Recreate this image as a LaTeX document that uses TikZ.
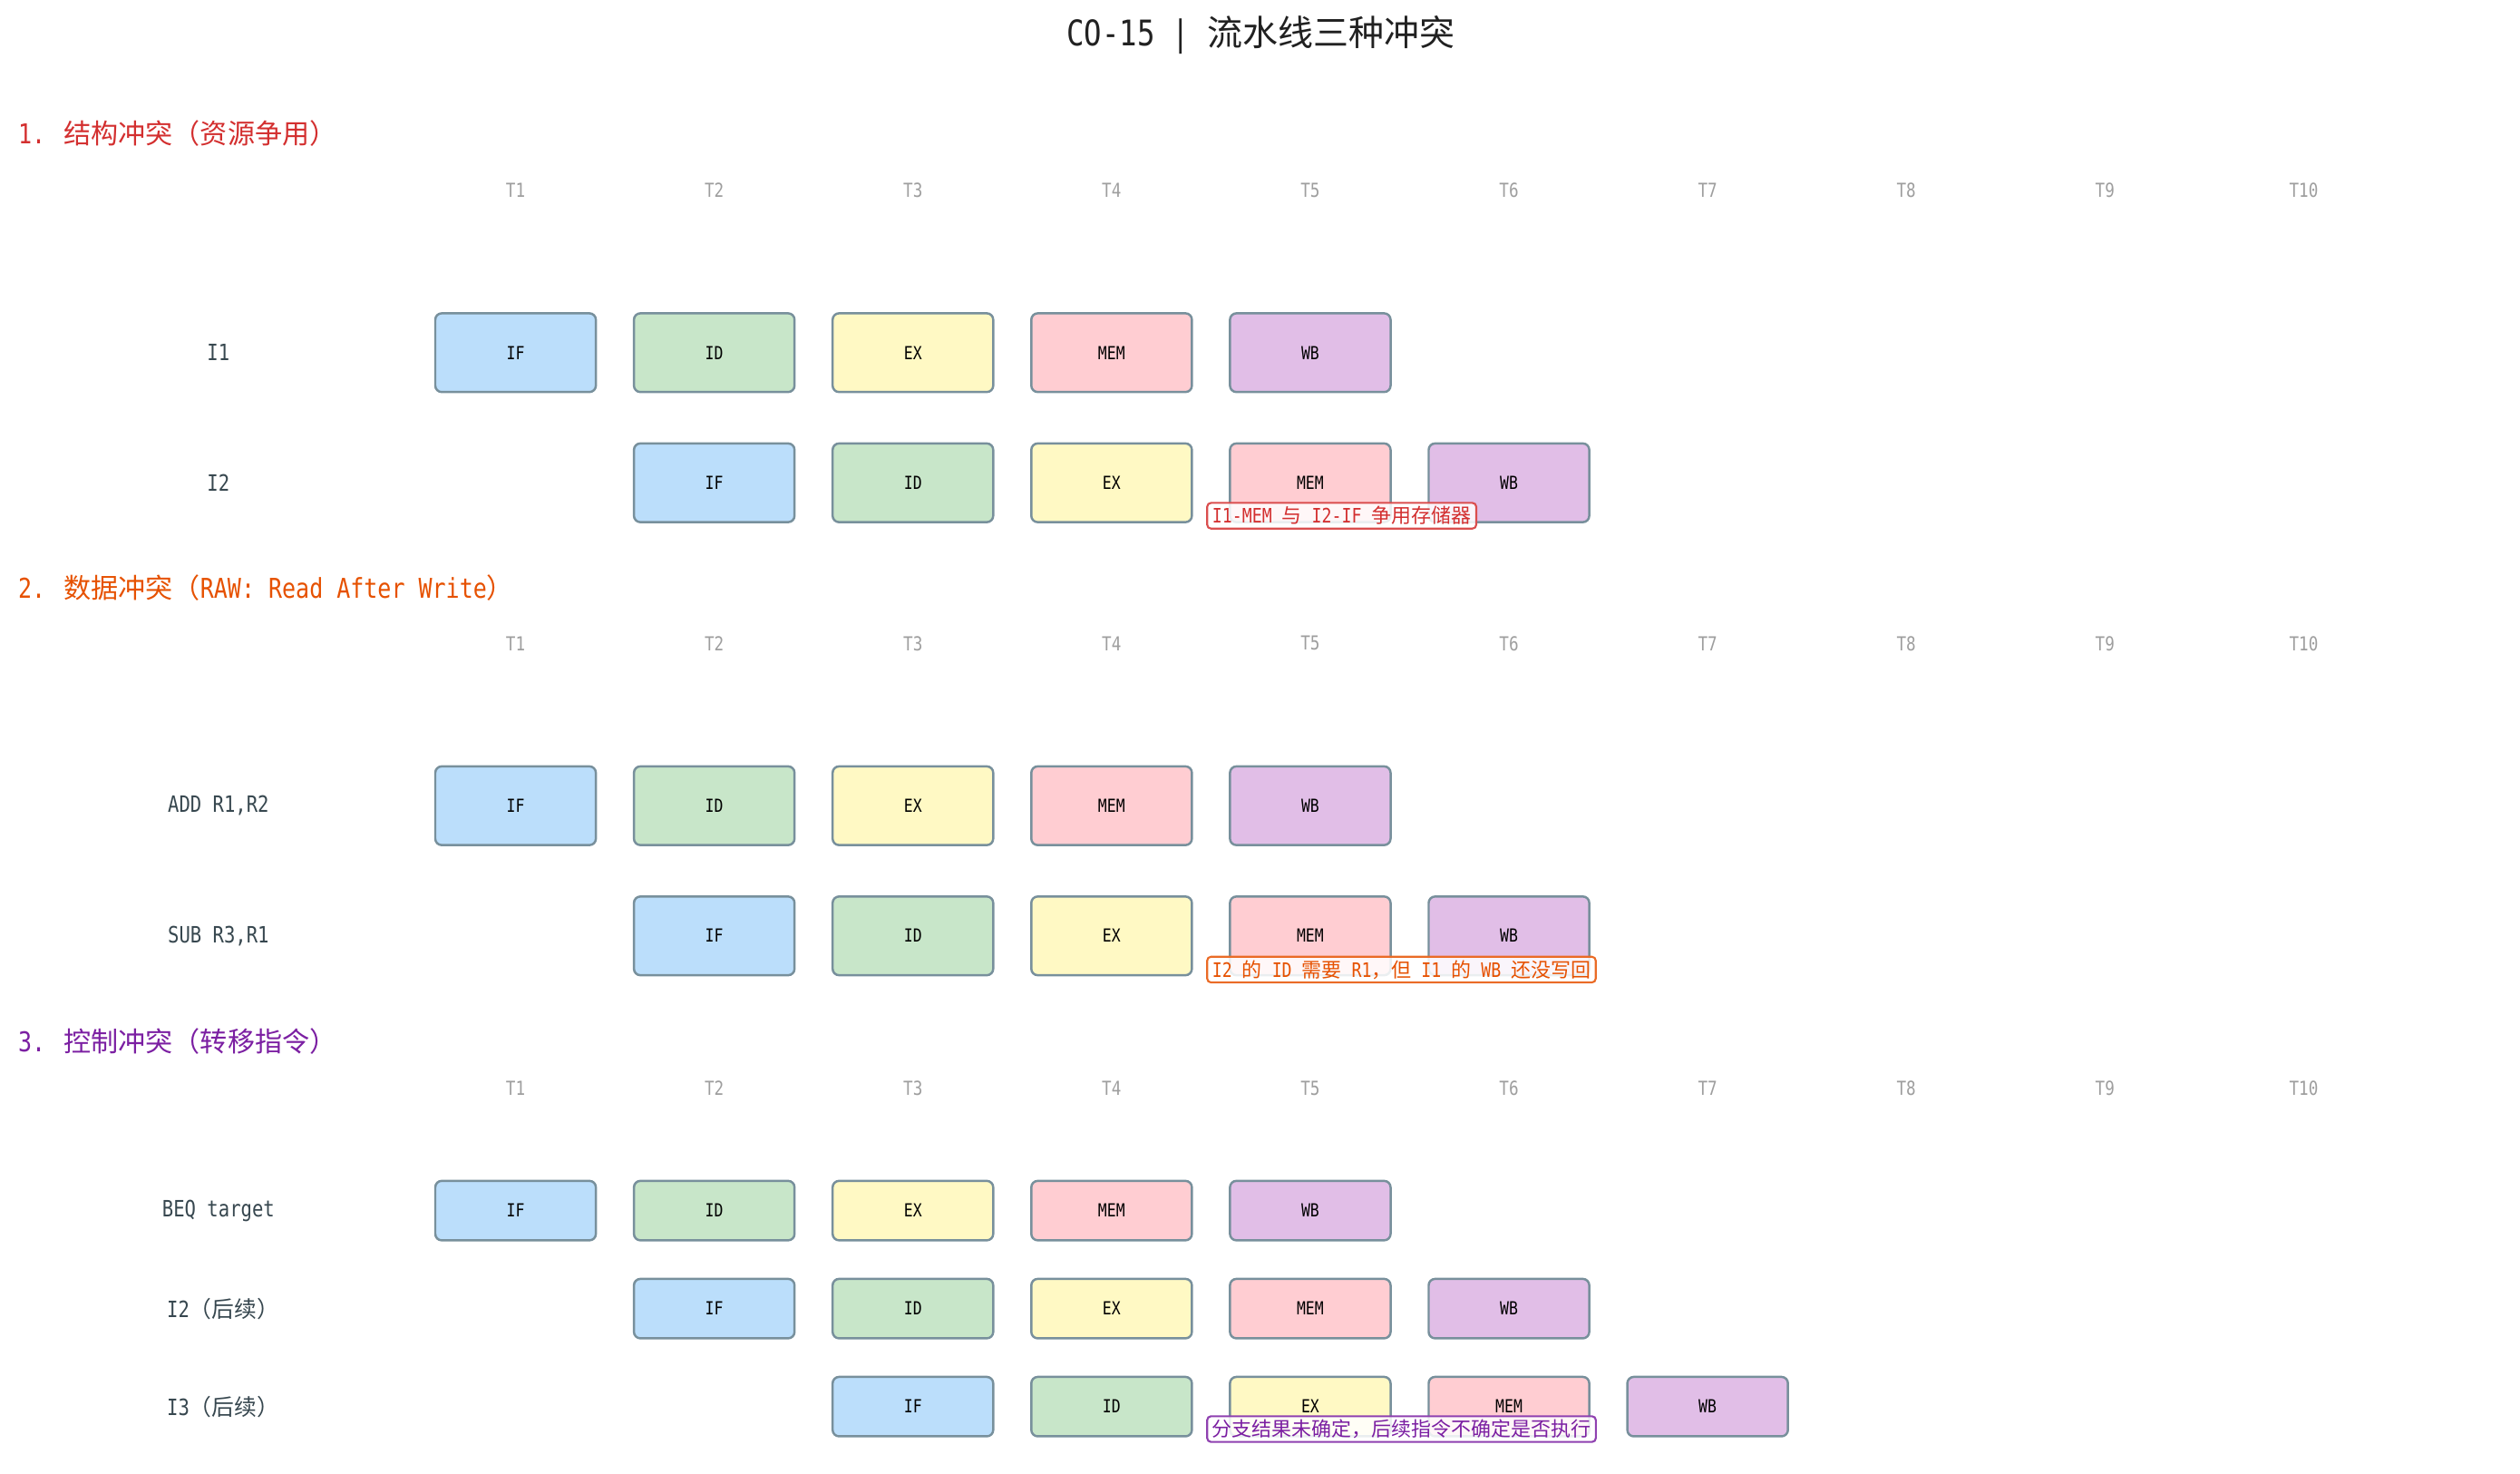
\documentclass[tikz,border=0pt]{standalone}
\usepackage{fontspec}
\setmainfont{DejaVu Sans Mono}[FakeStretch=0.83]
\newfontfamily\cjk{Noto Sans CJK SC}
\newcommand{\cj}[1]{{\cjk #1}}
\definecolor{cIF}{HTML}{BBDEFB}
\definecolor{cID}{HTML}{C8E6C9}
\definecolor{cEX}{HTML}{FFF9C4}
\definecolor{cMEM}{HTML}{FFCDD2}
\definecolor{cWB}{HTML}{E1BEE7}
\definecolor{bord}{HTML}{78909C}
\definecolor{hRed}{HTML}{D32F2F}
\definecolor{hOrg}{HTML}{E65100}
\definecolor{hPur}{HTML}{7B1FA2}
\definecolor{tgray}{HTML}{9E9E9E}
\definecolor{slate}{HTML}{37474F}
\definecolor{ttl}{HTML}{212121}
\tikzset{
  stg/.style={draw=bord, line width=0.7pt, rounded corners=2pt,
    minimum width=50pt, minimum height=24.5pt, inner sep=0pt, text=black,
    font=\fontsize{5.6}{5.6}\selectfont},
  rowA/.style={minimum height=24.5pt},
  rowB/.style={minimum height=18.5pt},
  stIF/.style={stg, fill=cIF},
  stID/.style={stg, fill=cID},
  stEX/.style={stg, fill=cEX},
  stMEM/.style={stg, fill=cMEM},
  stWB/.style={stg, fill=cWB},
  tl/.style={text=tgray, inner sep=0pt, font=\fontsize{6}{6}\selectfont},
  rl/.style={text=slate, inner sep=0pt, font=\fontsize{7}{7}\selectfont},
  hd/.style={anchor=west, inner sep=0pt, font=\fontsize{8.5}{8.5}\selectfont},
  ttlstyle/.style={text=ttl, inner sep=0pt, font=\fontsize{11}{11}\selectfont},
  note/.style={anchor=west, fill=white, fill opacity=0.85, text opacity=1,
    rounded corners=1.2pt, line width=0.6pt, inner xsep=1.6pt, inner ysep=0pt,
    minimum height=8pt, font=\fontsize{6.2}{6.2}\selectfont},
}
\newcommand{\pipe}[4]{%
  \foreach \s [count=\k from 0] in {IF,ID,EX,MEM,WB}{
    \pgfmathsetmacro{\cx}{321+(#3+\k-1)*123.7}
    \node[st\s,#4] (#1-\s) at (\cx,#2) {\s};
  }}
\newcommand{\tlabels}[2]{%
  \foreach \i in {1,...,10}{
    \node[tl] (#1-\i) at ({321+(\i-1)*123.7},#2) {T\i};
  }}
\begin{document}
\begin{tikzpicture}[x=0.5pt,y=-0.5pt]
\useasboundingbox (0,0) rectangle (1569,917.4);
\node[ttlstyle] (title) at (785,22) {CO-15 | \cj{流水线三种冲突}};
% Section 1
\node[hd, text=hRed] (h1) at (11,83) {1. \cj{结构冲突（资源争用）}};
\tlabels{ta}{118.5}
\node[rl] (l11) at (136,219.5) {I1};
\node[rl] (l12) at (136,300.5) {I2};
\pipe{a1}{219.5}{1}{rowA}
\pipe{a2}{300.5}{2}{rowA}
\node[note, draw=hRed!85, text=hRed] (n1) at (751,321) {I1-MEM \cj{与} I2-IF \cj{争用存储器}};
% Section 2
\node[hd, text=hOrg] (h2) at (11,366) {2. \cj{数据冲突（}RAW: Read After Write\cj{）}};
\tlabels{tb}{400.5}
\node[rl] (l21) at (136,501.5) {ADD R1,R2};
\node[rl] (l22) at (136,582.5) {SUB R3,R1};
\pipe{b1}{501.5}{1}{rowA}
\pipe{b2}{582.5}{2}{rowA}
\node[note, draw=hOrg!85, text=hOrg] (n2) at (751,603.5) {I2 \cj{的} ID \cj{需要} R1\cj{，但} I1 \cj{的} WB \cj{还没写回}};
% Section 3
\node[hd, text=hPur] (h3) at (11,648) {3. \cj{控制冲突（转移指令）}};
\tlabels{tc}{677.5}
\node[rl] (l31) at (136,753.5) {BEQ target};
\node[rl] (l32) at (139,814.5) {I2\cj{（后续）}};
\node[rl] (l33) at (139,875.5) {I3\cj{（后续）}};
\pipe{c1}{753.5}{1}{rowB}
\pipe{c2}{814.5}{2}{rowB}
\pipe{c3}{875.5}{3}{rowB}
\node[note, draw=hPur!85, text=hPur] (n3) at (751,889.5) {\cj{分支结果未确定，后续指令不确定是否执行}};
\end{tikzpicture}
\end{document}
